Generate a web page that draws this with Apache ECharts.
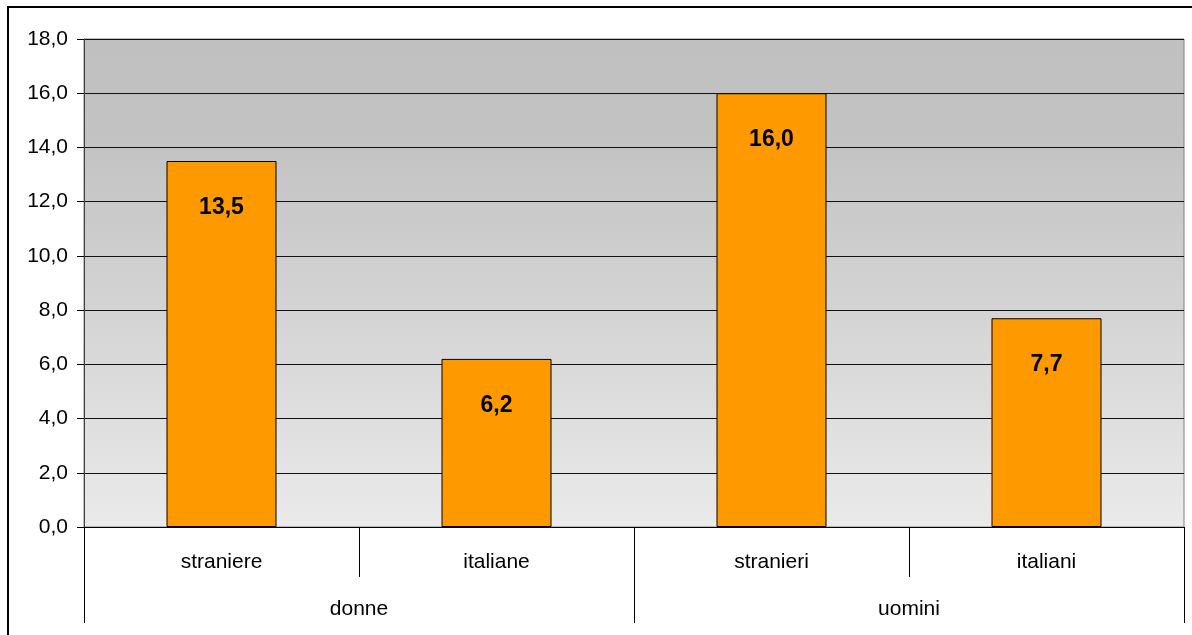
<!DOCTYPE html>
<html>
<head>
<meta charset="utf-8">
<script src="https://cdn.jsdelivr.net/npm/echarts@6/dist/echarts.min.js"></script>
<style>
html,body{margin:0;padding:0;background:#fff;}
#chart{width:1192px;height:635px;}
</style>
</head>
<body>
<div id="chart"></div>
<script>
var categories = ['straniere', 'italiane', 'stranieri', 'italiani'];
var groups = ['donne', 'uomini'];
var values = [13.5, 6.2, 16.0, 7.7];
var yTicks = {min: 0, max: 18, interval: 2};

var FONT = '"Liberation Sans", Arial, sans-serif';
function fmt(v) { return Number(v).toFixed(1).replace('.', ','); }

var chart = echarts.init(document.getElementById('chart'), null, {renderer: 'canvas'});
chart.setOption({
  backgroundColor: '#ffffff',
  animation: false,
  graphic: [{
    type: 'rect',
    shape: {x: 8, y: 7, width: 1200, height: 700},
    style: {fill: 'none', stroke: '#000', lineWidth: 2},
    silent: true,
    z: 100
  }],
  grid: {
    left: 84, right: 8, top: 39, bottom: 108,
    show: true,
    borderColor: '#808080',
    borderWidth: 1,
    backgroundColor: {
      type: 'linear', x: 0, y: 0, x2: 0, y2: 1,
      colorStops: [
        {offset: 0, color: '#c0c0c0'},
        {offset: 0.2, color: '#c2c2c2'},
        {offset: 1, color: '#eaeaea'}
      ]
    }
  },
  xAxis: [{
    type: 'category',
    data: categories,
    position: 'bottom',
    axisLine: {show: true, lineStyle: {color: '#000', width: 1}},
    axisTick: {show: true, length: 50, interval: 0, lineStyle: {color: '#000', width: 1}},
    axisLabel: {interval: 0, margin: 25, color: '#000', fontSize: 21, fontFamily: FONT},
    splitLine: {show: false}
  }, {
    type: 'category',
    data: groups,
    position: 'bottom',
    axisLine: {show: false},
    axisTick: {show: true, length: 96, interval: 0, lineStyle: {color: '#000', width: 1}},
    axisLabel: {interval: 0, margin: 72, color: '#000', fontSize: 21, fontFamily: FONT},
    splitLine: {show: false}
  }],
  yAxis: {
    type: 'value',
    min: yTicks.min, max: yTicks.max, interval: yTicks.interval,
    axisLine: {show: true, lineStyle: {color: '#404040', width: 1}},
    axisTick: {show: true, length: 7, lineStyle: {color: '#000'}},
    axisLabel: {margin: 16, color: '#000', fontSize: 21, fontFamily: FONT, formatter: fmt},
    splitLine: {show: true, lineStyle: {color: '#111', width: 1}}
  },
  series: [{
    type: 'bar',
    xAxisIndex: 0,
    data: values,
    barWidth: '40%',
    itemStyle: {color: '#FF9900', borderColor: '#000', borderWidth: 1},
    label: {
      show: true,
      position: 'insideTop',
      distance: 35,
      color: '#000',
      fontWeight: 'bold',
      fontSize: 23,
      fontFamily: FONT,
      formatter: function (p) { return fmt(p.value); }
    }
  }]
});
</script>
</body>
</html>
